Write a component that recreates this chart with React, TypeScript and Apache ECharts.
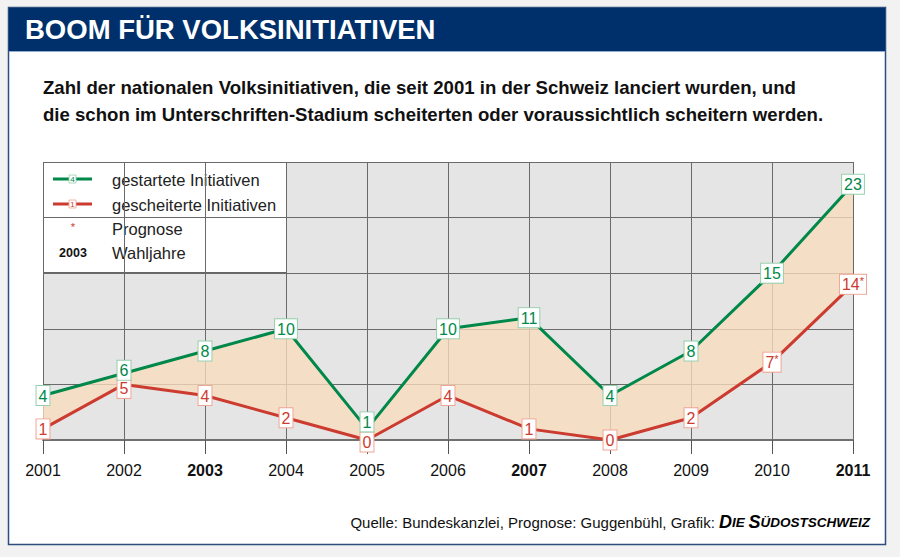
import React, { useEffect, useRef } from "react";
import * as echarts from "echarts";

const years = ["2001", "2002", "2003", "2004", "2005", "2006", "2007", "2008", "2009", "2010", "2011"];
const electionYears = ["2003", "2007", "2011"];
const prognoseYears = ["2010", "2011"];
const started = [4, 6, 8, 10, 1, 10, 11, 4, 8, 15, 23];
const failed = [1, 5, 4, 2, 0, 4, 1, 0, 2, 7, 14];

const GREEN = "#00884a";
const RED = "#cc3b2f";
const FONT = "'Liberation Sans', Arial, sans-serif";

// label nudges (pixels) where the two series' boxes would collide
const startedNudge: Record<number, number> = { 1: -3, 4: -7 };
const failedNudge: Record<number, number> = { 1: 4, 4: 2 };

export default function App() {
  const ref = useRef<HTMLDivElement>(null);
  useEffect(() => {
    if (!ref.current) return;
    const chart = echarts.init(ref.current, null, { renderer: "svg" });
    const diff = started.map((v, i) => v - failed[i]);

    const boxLabel = (textColor: string, border: string, stars: boolean) => ({
      show: true,
      position: "inside",
      formatter: (p: any) => {
        const y = years[p.dataIndex];
        if (stars && prognoseYears.includes(y)) return `{n|${p.value}}{s|*}`;
        return `{n|${p.value}}`;
      },
      backgroundColor: "#ffffff",
      borderColor: border,
      borderWidth: 1,
      padding: [1, 2, 0, 2],
      rich: {
        n: { fontFamily: FONT, fontSize: 16, color: textColor, lineHeight: 18 },
        s: { fontFamily: FONT, fontSize: 11, color: textColor, lineHeight: 18, verticalAlign: "top", padding: [0, 0, 7, 0] },
      },
    });

    const withNudge = (vals: number[], nudge: Record<number, number>) =>
      vals.map((v, i) => (nudge[i] !== undefined ? { value: v, label: { offset: [0, nudge[i]] } } : v));

    chart.setOption({
      animation: false,
      backgroundColor: "#f2f2f2",
      grid: {
        left: 43,
        right: 47,
        top: 162,
        bottom: 117,
        show: true,
        backgroundColor: "#e5e5e5",
        borderWidth: 0,
      },
      xAxis: {
        type: "category",
        data: years,
        boundaryGap: false,
        axisLine: { show: true, lineStyle: { color: "#707070", width: 2 } },
        axisTick: { show: true, length: 14, lineStyle: { color: "#555", width: 1 } },
        splitLine: { show: true, lineStyle: { color: "#6a6a6a", width: 1 } },
        axisLabel: {
          margin: 22,
          formatter: (v: string) => (electionYears.includes(v) ? `{b|${v}}` : `{n|${v}}`),
          rich: {
            n: { fontFamily: FONT, fontSize: 16, color: "#111" },
            b: { fontFamily: FONT, fontSize: 16, color: "#111", fontWeight: "bold" },
          },
        },
      },
      yAxis: {
        type: "value",
        min: 0,
        max: 25,
        interval: 5,
        axisLine: { show: false },
        axisTick: { show: false },
        axisLabel: { show: false },
        splitLine: { show: true, lineStyle: { color: "#6a6a6a", width: 1 } },
      },
      series: [
        {
          type: "line",
          data: failed,
          stack: "band",
          symbol: "none",
          lineStyle: { opacity: 0 },
          silent: true,
          z: 2,
        },
        {
          type: "line",
          data: diff,
          stack: "band",
          symbol: "none",
          lineStyle: { opacity: 0 },
          areaStyle: { color: "rgb(250,220,190)", opacity: 0.78 },
          silent: true,
          z: 2,
        },
        {
          type: "line",
          data: withNudge(failed, failedNudge),
          symbol: "circle",
          symbolSize: 1,
          itemStyle: { color: RED },
          lineStyle: { color: RED, width: 3 },
          label: boxLabel(RED, "#f0a595", true),
          z: 4,
        },
        {
          type: "line",
          data: withNudge(started, startedNudge),
          symbol: "circle",
          symbolSize: 1,
          itemStyle: { color: GREEN },
          lineStyle: { color: GREEN, width: 3 },
          label: boxLabel(GREEN, "#96d0ad", false),
          z: 5,
        },
      ],
      graphic: [
        {
          type: "rect",
          z: -10,
          shape: { x: 8.5, y: 7.5, width: 877, height: 537 },
          style: { fill: "#ffffff", stroke: "#2d4d7e", lineWidth: 1.5 },
        },
        {
          type: "rect",
          z: -9,
          shape: { x: 9, y: 8, width: 876, height: 43 },
          style: { fill: "#00306b" },
        },
        {
          type: "line",
          z: -9,
          shape: { x1: 9, y1: 51.5, x2: 885, y2: 51.5 },
          style: { stroke: "#8fabd0", lineWidth: 1 },
        },
        {
          type: "text",
          x: 25,
          y: 29,
          style: {
            text: "BOOM FÜR VOLKSINITIATIVEN",
            fill: "#ffffff",
            font: `bold 27.5px ${FONT}`,
            textVerticalAlign: "middle",
          },
        },
        {
          type: "text",
          x: 43,
          y: 87,
          style: {
            text: "Zahl der nationalen Volksinitiativen, die seit 2001 in der Schweiz lanciert wurden, und",
            fill: "#111",
            font: `bold 18.6px ${FONT}`,
            textVerticalAlign: "middle",
          },
        },
        {
          type: "text",
          x: 43,
          y: 114,
          style: {
            text: "die schon im Unterschriften-Stadium scheiterten oder voraussichtlich scheitern werden.",
            fill: "#111",
            font: `bold 18.6px ${FONT}`,
            textVerticalAlign: "middle",
          },
        },
        {
          type: "group",
          z: 100,
          children: [
            {
              type: "rect",
              shape: { x: 43.5, y: 162.5, width: 243, height: 110 },
              style: { fill: "#ffffff", stroke: "#666", lineWidth: 1 },
            },
            { type: "line", shape: { x1: 53, y1: 179, x2: 92, y2: 179 }, style: { stroke: GREEN, lineWidth: 3 } },
            { type: "rect", shape: { x: 69, y: 175, width: 7, height: 8 }, style: { fill: "#fff", stroke: "#96d0ad", lineWidth: 0.8 } },
            { type: "text", x: 72.5, y: 179.5, style: { text: "4", fill: GREEN, font: `8px ${FONT}`, textAlign: "center", textVerticalAlign: "middle" } },
            { type: "text", x: 112, y: 180, style: { text: "gestartete Initiativen", fill: "#222", font: `16.5px ${FONT}`, textVerticalAlign: "middle" } },
            { type: "line", shape: { x1: 53, y1: 204, x2: 92, y2: 204 }, style: { stroke: RED, lineWidth: 3 } },
            { type: "rect", shape: { x: 69, y: 200, width: 7, height: 8 }, style: { fill: "#fff", stroke: "#f0a595", lineWidth: 0.8 } },
            { type: "text", x: 72.5, y: 204.5, style: { text: "1", fill: RED, font: `8px ${FONT}`, textAlign: "center", textVerticalAlign: "middle" } },
            { type: "text", x: 112, y: 205, style: { text: "gescheiterte Initiativen", fill: "#222", font: `16.5px ${FONT}`, textVerticalAlign: "middle" } },
            { type: "text", x: 73, y: 227, style: { text: "*", fill: RED, font: `11px ${FONT}`, textAlign: "center", textVerticalAlign: "middle" } },
            { type: "text", x: 112, y: 229, style: { text: "Prognose", fill: "#222", font: `16.5px ${FONT}`, textVerticalAlign: "middle" } },
            { type: "text", x: 73, y: 253, style: { text: "2003", fill: "#111", font: `bold 12.5px ${FONT}`, textAlign: "center", textVerticalAlign: "middle" } },
            { type: "text", x: 112, y: 253, style: { text: "Wahljahre", fill: "#222", font: `16.5px ${FONT}`, textVerticalAlign: "middle" } },
          ],
        },
        {
          type: "text",
          x: 870,
          y: 522,
          style: {
            text: "Quelle: Bundeskanzlei, Prognose: Guggenbühl, Grafik: {b|D}{s|IE }{b|S}{s|ÜDOSTSCHWEIZ}",
            font: `15px ${FONT}`,
            fill: "#111",
            textAlign: "right",
            textVerticalAlign: "middle",
            rich: {
              b: { font: `italic 900 18px ${FONT}`, fill: "#000", fontWeight: 900, fontStyle: "italic", fontSize: 18 },
              s: { font: `italic 900 13.5px ${FONT}`, fill: "#000", fontWeight: 900, fontStyle: "italic", fontSize: 13.5 },
            },
          },
        },
      ],
    });
    return () => chart.dispose();
  }, []);
  return <div ref={ref} style={{ position: "fixed", left: 0, top: 0, width: 900, height: 557 }} />;
}
